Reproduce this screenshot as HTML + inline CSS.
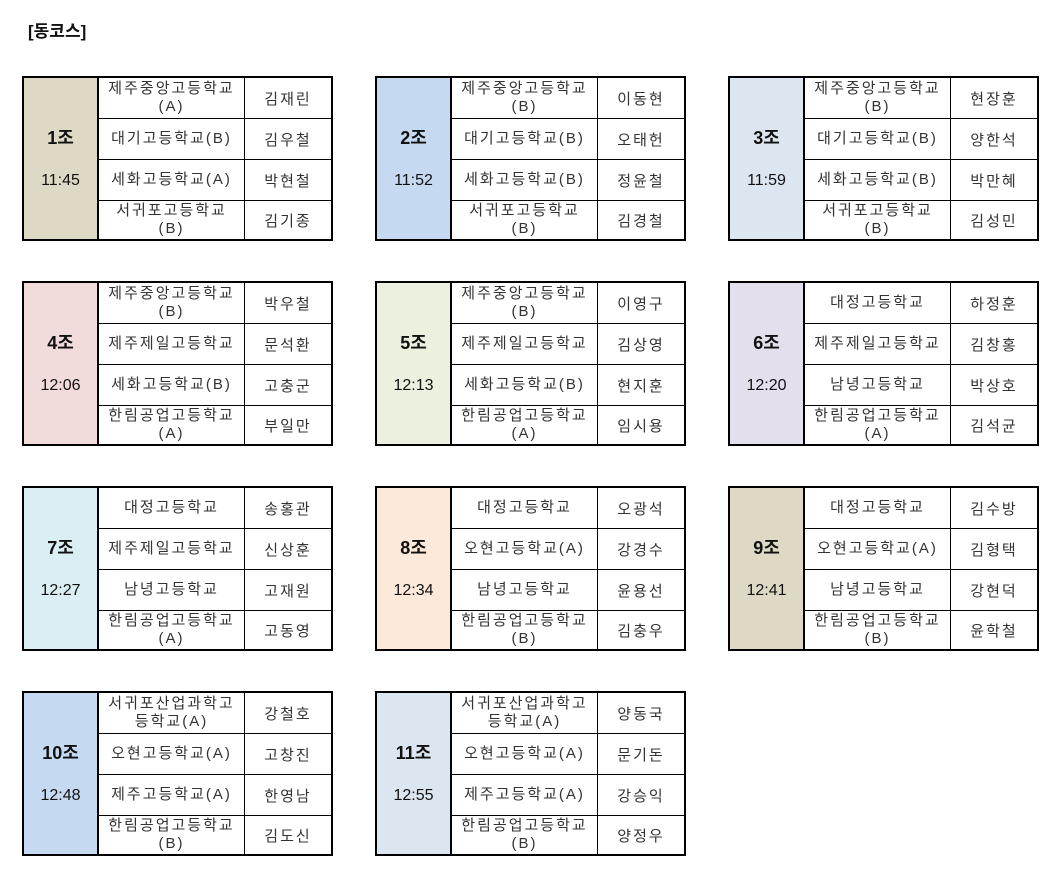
<!DOCTYPE html>
<html><head><meta charset="utf-8"><style>
body{margin:0;width:1062px;height:896px;background:#fff;position:relative;font-family:"Liberation Sans","Noto Sans CJK KR",sans-serif;color:#111;overflow:hidden}
.t{position:absolute;left:28px;top:17px;font-size:17px;font-weight:bold}
.g{position:absolute;width:311px;height:165px;border:2px solid #000;box-sizing:border-box;background:#fff}
.l{position:absolute;left:0;top:0;width:73px;height:100%;border-right:2px solid #000;text-align:center}
.l b{display:block;margin-top:49px;font-size:18px;line-height:22px}
.l span{display:block;margin-top:22px;font-size:16px;line-height:20px}
.r{position:absolute;left:75px;right:0;height:41px;display:flex;border-bottom:1px solid #000;box-sizing:border-box}
.s{width:145px;border-right:1px solid #000;display:flex;align-items:center;justify-content:center;text-align:center;font-size:15px;letter-spacing:2px;line-height:18px;color:#333}
.n{flex:1;display:flex;align-items:center;justify-content:center;font-size:15px;letter-spacing:2px;color:#333}
</style></head><body>
<div class="t">[동코스]</div>

<div class="g" style="left:22px;top:76px"><div class="l" style="background:#ddd9c4"><b>1조</b><span>11:45</span></div>
<div class="r" style="top:0"><div class="s">제주중앙고등학교<br>(A)</div><div class="n">김재린</div></div>
<div class="r" style="top:41px"><div class="s">대기고등학교(B)</div><div class="n">김우철</div></div>
<div class="r" style="top:82px"><div class="s">세화고등학교(A)</div><div class="n">박현철</div></div>
<div class="r" style="top:123px;height:38px;border:none"><div class="s">서귀포고등학교<br>(B)</div><div class="n">김기종</div></div></div>

<div class="g" style="left:375px;top:76px"><div class="l" style="background:#c5d9f1"><b>2조</b><span>11:52</span></div>
<div class="r" style="top:0"><div class="s">제주중앙고등학교<br>(B)</div><div class="n">이동현</div></div>
<div class="r" style="top:41px"><div class="s">대기고등학교(B)</div><div class="n">오태헌</div></div>
<div class="r" style="top:82px"><div class="s">세화고등학교(B)</div><div class="n">정윤철</div></div>
<div class="r" style="top:123px;height:38px;border:none"><div class="s">서귀포고등학교<br>(B)</div><div class="n">김경철</div></div></div>

<div class="g" style="left:728px;top:76px"><div class="l" style="background:#dce6f1"><b>3조</b><span>11:59</span></div>
<div class="r" style="top:0"><div class="s">제주중앙고등학교<br>(B)</div><div class="n">현장훈</div></div>
<div class="r" style="top:41px"><div class="s">대기고등학교(B)</div><div class="n">양한석</div></div>
<div class="r" style="top:82px"><div class="s">세화고등학교(B)</div><div class="n">박만혜</div></div>
<div class="r" style="top:123px;height:38px;border:none"><div class="s">서귀포고등학교<br>(B)</div><div class="n">김성민</div></div></div>

<div class="g" style="left:22px;top:281px"><div class="l" style="background:#f2dcdb"><b>4조</b><span>12:06</span></div>
<div class="r" style="top:0"><div class="s">제주중앙고등학교<br>(B)</div><div class="n">박우철</div></div>
<div class="r" style="top:41px"><div class="s">제주제일고등학교</div><div class="n">문석환</div></div>
<div class="r" style="top:82px"><div class="s">세화고등학교(B)</div><div class="n">고충군</div></div>
<div class="r" style="top:123px;height:38px;border:none"><div class="s">한림공업고등학교<br>(A)</div><div class="n">부일만</div></div></div>

<div class="g" style="left:375px;top:281px"><div class="l" style="background:#ebf1de"><b>5조</b><span>12:13</span></div>
<div class="r" style="top:0"><div class="s">제주중앙고등학교<br>(B)</div><div class="n">이영구</div></div>
<div class="r" style="top:41px"><div class="s">제주제일고등학교</div><div class="n">김상영</div></div>
<div class="r" style="top:82px"><div class="s">세화고등학교(B)</div><div class="n">현지훈</div></div>
<div class="r" style="top:123px;height:38px;border:none"><div class="s">한림공업고등학교<br>(A)</div><div class="n">임시용</div></div></div>

<div class="g" style="left:728px;top:281px"><div class="l" style="background:#e4dfec"><b>6조</b><span>12:20</span></div>
<div class="r" style="top:0"><div class="s">대정고등학교</div><div class="n">하정훈</div></div>
<div class="r" style="top:41px"><div class="s">제주제일고등학교</div><div class="n">김창홍</div></div>
<div class="r" style="top:82px"><div class="s">남녕고등학교</div><div class="n">박상호</div></div>
<div class="r" style="top:123px;height:38px;border:none"><div class="s">한림공업고등학교<br>(A)</div><div class="n">김석균</div></div></div>

<div class="g" style="left:22px;top:486px"><div class="l" style="background:#daeef3"><b>7조</b><span>12:27</span></div>
<div class="r" style="top:0"><div class="s">대정고등학교</div><div class="n">송홍관</div></div>
<div class="r" style="top:41px"><div class="s">제주제일고등학교</div><div class="n">신상훈</div></div>
<div class="r" style="top:82px"><div class="s">남녕고등학교</div><div class="n">고재원</div></div>
<div class="r" style="top:123px;height:38px;border:none"><div class="s">한림공업고등학교<br>(A)</div><div class="n">고동영</div></div></div>

<div class="g" style="left:375px;top:486px"><div class="l" style="background:#fde9d9"><b>8조</b><span>12:34</span></div>
<div class="r" style="top:0"><div class="s">대정고등학교</div><div class="n">오광석</div></div>
<div class="r" style="top:41px"><div class="s">오현고등학교(A)</div><div class="n">강경수</div></div>
<div class="r" style="top:82px"><div class="s">남녕고등학교</div><div class="n">윤용선</div></div>
<div class="r" style="top:123px;height:38px;border:none"><div class="s">한림공업고등학교<br>(B)</div><div class="n">김충우</div></div></div>

<div class="g" style="left:728px;top:486px"><div class="l" style="background:#ddd9c4"><b>9조</b><span>12:41</span></div>
<div class="r" style="top:0"><div class="s">대정고등학교</div><div class="n">김수방</div></div>
<div class="r" style="top:41px"><div class="s">오현고등학교(A)</div><div class="n">김형택</div></div>
<div class="r" style="top:82px"><div class="s">남녕고등학교</div><div class="n">강현덕</div></div>
<div class="r" style="top:123px;height:38px;border:none"><div class="s">한림공업고등학교<br>(B)</div><div class="n">윤학철</div></div></div>

<div class="g" style="left:22px;top:691px"><div class="l" style="background:#c5d9f1"><b>10조</b><span>12:48</span></div>
<div class="r" style="top:0"><div class="s">서귀포산업과학고<br>등학교(A)</div><div class="n">강철호</div></div>
<div class="r" style="top:41px"><div class="s">오현고등학교(A)</div><div class="n">고창진</div></div>
<div class="r" style="top:82px"><div class="s">제주고등학교(A)</div><div class="n">한영남</div></div>
<div class="r" style="top:123px;height:38px;border:none"><div class="s">한림공업고등학교<br>(B)</div><div class="n">김도신</div></div></div>

<div class="g" style="left:375px;top:691px"><div class="l" style="background:#dce6f1"><b>11조</b><span>12:55</span></div>
<div class="r" style="top:0"><div class="s">서귀포산업과학고<br>등학교(A)</div><div class="n">양동국</div></div>
<div class="r" style="top:41px"><div class="s">오현고등학교(A)</div><div class="n">문기돈</div></div>
<div class="r" style="top:82px"><div class="s">제주고등학교(A)</div><div class="n">강승익</div></div>
<div class="r" style="top:123px;height:38px;border:none"><div class="s">한림공업고등학교<br>(B)</div><div class="n">양정우</div></div></div>
</body></html>
